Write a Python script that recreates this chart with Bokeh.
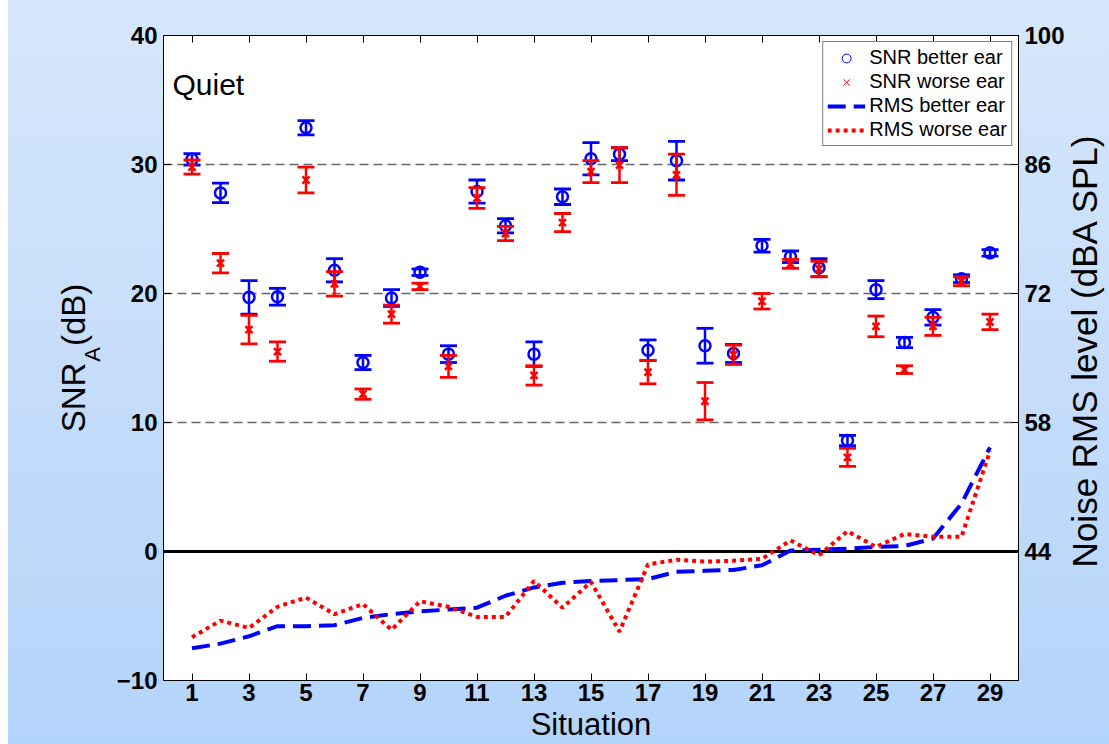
import math
from bokeh.plotting import figure
from bokeh.models import (ColumnDataSource, Range1d, LinearAxis, FixedTicker, Span,
                          Label, Legend, LegendItem)
from bokeh.embed import file_html
from bokeh.resources import INLINE

# ---------------- data ----------------
situation = list(range(1, 30))
snr_better = [30.4, 27.8, 19.7, 19.75, 32.85, 21.8, 14.65, 19.65, 21.65, 15.3,
              27.9, 25.25, 15.3, 27.5, 30.45, 30.8, 15.6, 30.3, 15.95, 15.35,
              23.7, 22.85, 22.0, 8.6, 20.3, 16.2, 18.15, 21.15, 23.15]
snr_better_err = [0.45, 0.75, 1.3, 0.65, 0.55, 0.9, 0.55, 0.65, 0.25, 0.65,
                  0.9, 0.55, 0.95, 0.6, 1.25, 0.5, 0.8, 1.5, 1.35, 0.7,
                  0.5, 0.45, 0.7, 0.4, 0.7, 0.4, 0.6, 0.3, 0.25]
snr_worse = [29.8, 22.35, 17.2, 15.5, 28.8, 20.75, 12.2, 18.4, 20.55, 14.35,
             27.4, 24.65, 13.65, 25.5, 29.45, 29.95, 13.9, 29.2, 11.65, 15.25,
             19.4, 22.3, 21.9, 7.3, 17.45, 14.1, 17.45, 20.95, 17.8]
snr_worse_err = [0.55, 0.75, 1.1, 0.75, 1.0, 0.95, 0.4, 0.7, 0.25, 0.85,
                 0.8, 0.55, 0.75, 0.7, 0.85, 1.35, 0.9, 1.6, 1.45, 0.75,
                 0.6, 0.35, 0.6, 0.7, 0.8, 0.3, 0.7, 0.35, 0.6]
rms_better = [33.5, 34.0, 34.8, 35.9, 35.9, 36.0, 36.8, 37.2, 37.5, 37.7,
              37.9, 39.2, 40.1, 40.6, 40.8, 40.9, 41.0, 41.8, 41.9, 42.0,
              42.5, 44.1, 44.2, 44.3, 44.5, 44.6, 45.4, 49.2, 55.3]
rms_worse = [34.7, 36.5, 35.7, 38.0, 39.0, 37.2, 38.3, 35.5, 38.6, 38.0,
             36.9, 36.9, 40.8, 37.9, 40.7, 35.3, 42.6, 43.1, 42.9, 43.0,
             43.2, 45.2, 43.6, 46.2, 44.5, 45.9, 45.6, 45.6, 54.9]

x_ticks = situation[::2]
snr_ticks = [-10, 0, 10, 20, 30, 40]
rms_ticks = [44, 58, 72, 86, 100]
grid_ticks = [10, 20, 30]

# ---------------- layout constants ----------------
W, H = 1109, 744
FL, FR, FT, FB = 163, 1018, 35, 680
X0, X1 = 0, 30
Y0, Y1 = -10, 40
R0, R1 = 30, 100
FONT = "Liberation Sans"
BLUE = "#0000ff"
RED = "#ff0000"


def dx(cx):
    return X0 + (cx - FL) / (FR - FL) * (X1 - X0)


def dy(cy):
    return Y1 - (cy - FT) / (FB - FT) * (Y1 - Y0)


p = figure(width=W, height=H, x_range=Range1d(X0, X1), y_range=Range1d(Y0, Y1),
           output_backend="svg", toolbar_location=None, tools="",
           min_border_left=FL, min_border_right=W - FR,
           min_border_top=FT, min_border_bottom=H - FB)
p.extra_y_ranges = {"rms": Range1d(R0, R1)}
p.border_fill_color = None
p.background_fill_color = "white"
p.outline_line_color = "black"
p.outline_line_width = 1
p.styles = {"background": "linear-gradient(90deg, #ffffff 8px, rgba(255,255,255,0) 8px), "
                          "linear-gradient(180deg, #d6e7fb 0%, #c6ddfa 50%, #b3d4fa 100%)"}

p.xgrid.visible = False
p.ygrid.ticker = FixedTicker(ticks=grid_ticks)
p.ygrid.grid_line_color = "#666666"
p.ygrid.grid_line_dash = "9 5"
p.ygrid.grid_line_width = 1.3


def style_axis(ax, standoff):
    ax.major_tick_in = 7
    ax.major_tick_out = 0
    ax.minor_tick_line_color = None
    ax.axis_line_color = "black"
    ax.major_tick_line_color = "black"
    ax.major_label_text_font = FONT
    ax.major_label_text_font_style = "bold"
    ax.major_label_text_font_size = "24px"
    ax.major_label_text_color = "black"
    ax.major_label_standoff = standoff


def label_axis(ax, text, size, standoff):
    ax.ticker = FixedTicker(ticks=[])
    ax.major_tick_in = 0
    ax.major_tick_out = 0
    ax.major_tick_line_color = None
    ax.minor_tick_line_color = None
    ax.axis_line_color = None
    ax.major_label_standoff = 0
    ax.axis_label = text
    ax.axis_label_text_font = FONT
    ax.axis_label_text_font_size = f"{size}px"
    ax.axis_label_text_font_style = "normal"
    ax.axis_label_text_color = "black"
    ax.axis_label_standoff = standoff


xb = p.xaxis[0]
xb.ticker = FixedTicker(ticks=x_ticks)
style_axis(xb, 3)
xb.axis_label = "Situation"
xb.axis_label_text_font = FONT
xb.axis_label_text_font_size = "31px"
xb.axis_label_text_font_style = "normal"
xb.axis_label_text_color = "black"
xb.axis_label_standoff = 3

yl = p.yaxis[0]
yl.ticker = FixedTicker(ticks=snr_ticks)
yl.major_label_overrides = {-10: "\u221210"}
style_axis(yl, 6)

# y label SNR_A(dB): subscript "A" on its own label-only axis next to the tick axis,
# "SNR" and "(dB)" on an outer axis with a gap where the subscript sits
F_MAIN, F_SUB = 33, 22
ya = LinearAxis()
label_axis(ya, "\u2004A", F_SUB, 9)
p.add_layout(ya, "left")

ys = LinearAxis()
label_axis(ys, "SNR\u2002(dB)", F_MAIN, -15)
p.add_layout(ys, "left")

yr = LinearAxis(y_range_name="rms", ticker=FixedTicker(ticks=rms_ticks))
style_axis(yr, 6)
p.add_layout(yr, "right")

# right-hand title, reading bottom-to-top, placed in the right side panel
p.add_layout(Label(x=17, x_units="screen", y=dy(350), y_units="data",
                   text="Noise RMS level (dBA SPL)", angle=math.pi / 2,
                   text_font=FONT, text_font_size="35px", text_color="black",
                   text_align="center", text_baseline="alphabetic"), "right")

xt = LinearAxis(ticker=FixedTicker(ticks=x_ticks))
style_axis(xt, 0)
xt.major_label_text_alpha = 0
xt.major_label_text_font_size = "1px"
p.add_layout(xt, "above")

# zero line
p.add_layout(Span(location=0, dimension="width", line_color="black", line_width=3, level="underlay"))

# ---------------- RMS lines ----------------
src_rms = ColumnDataSource(dict(x=situation, better=rms_better, worse=rms_worse))
l_blue = p.line("x", "better", source=src_rms, y_range_name="rms", line_color=BLUE,
                line_width=4, line_dash="18 8")
l_red = p.line("x", "worse", source=src_rms, y_range_name="rms", line_color=RED,
               line_width=4, line_dash="4 4")


# ---------------- error bars + markers ----------------
def errorbars(vals, errs, color, marker, msize):
    src = ColumnDataSource(dict(
        x=situation, y=vals,
        lo=[v - e for v, e in zip(vals, errs)],
        hi=[v + e for v, e in zip(vals, errs)]))
    p.segment(x0="x", y0="lo", x1="x", y1="hi", source=src, line_color=color, line_width=2.5)
    p.scatter("x", "lo", source=src, marker="dash", size=17, line_color=color, line_width=2.8)
    p.scatter("x", "hi", source=src, marker="dash", size=17, line_color=color, line_width=2.8)
    p.scatter("x", "y", source=src, marker=marker, size=msize, fill_color=None,
              line_color=color, line_width=2.5)


errorbars(snr_better, snr_better_err, BLUE, "circle", 11)
errorbars(snr_worse, snr_worse_err, RED, "x", 10)

# legend-only marker renderers (thin markers as in the legend)
nan = float("nan")
lg_circ = p.scatter([nan], [nan], marker="circle", size=10, fill_color=None,
                    line_color=BLUE, line_width=1)
lg_x = p.scatter([nan], [nan], marker="x", size=10, line_color=RED, line_width=1)

legend = Legend(items=[
    LegendItem(label="SNR better ear", renderers=[lg_circ]),
    LegendItem(label="SNR worse ear", renderers=[lg_x]),
    LegendItem(label="RMS better ear", renderers=[l_blue]),
    LegendItem(label="RMS worse ear", renderers=[l_red]),
], location="top_right", margin=6, padding=4, spacing=1,
    label_height=22, glyph_height=22, glyph_width=38, label_standoff=4,
    label_text_font=FONT, label_text_font_size="20px", label_text_color="black",
    border_line_color="black", border_line_width=1,
    background_fill_color="white", background_fill_alpha=1)
p.add_layout(legend)

# ---------------- in-frame text ----------------
p.add_layout(Label(x=dx(172), y=dy(84), text="Quiet", text_font=FONT, text_color="black",
                   text_font_size="30px", text_align="left", text_baseline="alphabetic"))

open("out.html", "w").write(file_html(p, INLINE, title="SNR quiet"))
